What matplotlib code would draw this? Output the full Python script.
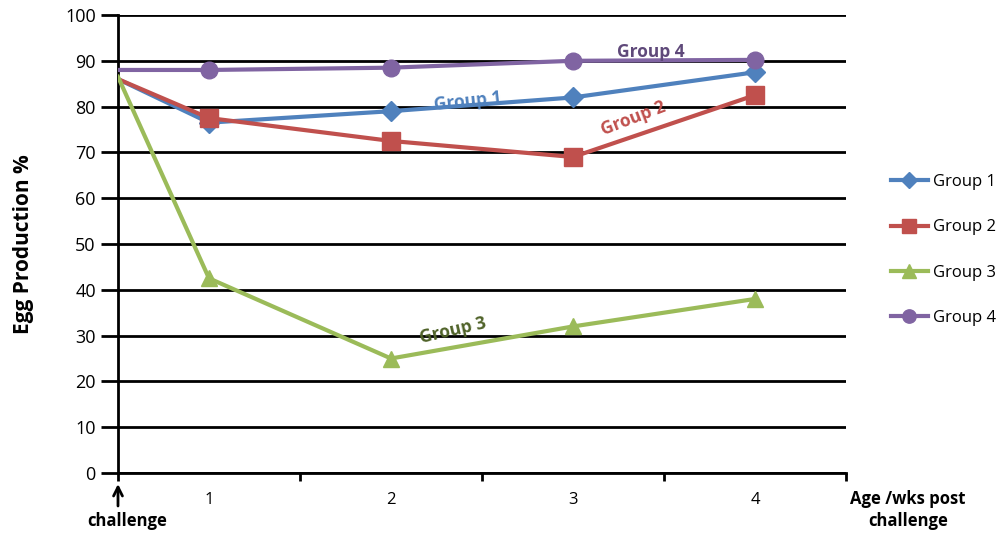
import numpy as np
import matplotlib.pyplot as plt

# x = 0.5 is the challenge point, weeks 1-4 sit at category centres
weeks = [0.5, 1, 2, 3, 4]
week_labels = ["1", "2", "3", "4"]
group1 = [86, 76.5, 79, 82, 87.5]
group2 = [86, 77.5, 72.5, 69, 82.5]
group3 = [86.5, 42.5, 25, 32, 38]
group4 = [88, 88, 88.5, 90, 90.2]

plt.rcParams["font.family"] = ["Open Sans", "DejaVu Sans"]

fig = plt.figure(figsize=(10.01, 5.33), dpi=100)
ax = fig.add_axes([118 / 1001, 1 - 473 / 533, (846 - 118) / 1001, (473 - 15) / 533])

series = [
    ("Group 1", group1, "#4F81BD", "D", 10),
    ("Group 2", group2, "#C0504D", "s", 13),
    ("Group 3", group3, "#9BBB59", "^", 12),
    ("Group 4", group4, "#8064A2", "o", 12),
]
for name, vals, col, mk, ms in series:
    ax.plot(weeks, vals, color=col, lw=3, zorder=3)
    ax.plot(weeks[1:], vals[1:], ls="none", marker=mk, ms=ms, color=col, zorder=4)
    ax.plot([], [], color=col, lw=3, marker=mk, ms=ms * 0.8, label=name)

ax.set_xlim(0.5, 4.5)
ax.set_ylim(0, 100)
ax.set_yticks(np.arange(0, 101, 10))
ax.yaxis.grid(True, color="black", lw=2)
ax.set_axisbelow(True)
ax.set_xticks(np.arange(0.5, 4.6, 1))
ax.set_xticklabels([])
ax.set_xticks([1, 2, 3, 4], minor=True)
ax.set_xticklabels(week_labels, minor=True)
ax.tick_params(axis="x", which="minor", length=0, pad=14, labelsize=12)
ax.tick_params(axis="x", which="major", length=6, width=2, direction="out")
ax.tick_params(axis="y", length=12, width=2, labelsize=13, pad=4)
for side in ["top", "right"]:
    ax.spines[side].set_visible(False)
for side in ["left", "bottom"]:
    ax.spines[side].set_linewidth(2)

ax.set_ylabel("Egg Production %", fontsize=15, fontweight="bold", labelpad=22)

# inline labels
ax.text(2.42, 81.2, "Group 1", color="#4F81BD", fontsize=12.5, fontweight="bold",
        rotation=6, ha="center", va="center")
ax.text(3.33, 77.5, "Group 2", color="#C0504D", fontsize=12.5, fontweight="bold",
        rotation=21, ha="center", va="center")
ax.text(2.34, 31.0, "Group 3", color="#4F6228", fontsize=12.5, fontweight="bold",
        rotation=13, ha="center", va="center")
ax.text(3.43, 92.0, "Group 4", color="#5F497A", fontsize=12.5, fontweight="bold",
        ha="center", va="center")

# challenge marker
x0 = 118 / 1001
ax.annotate("", xy=(x0, 1 - 484 / 533), xytext=(x0, 1 - 506 / 533),
            xycoords="figure fraction", textcoords="figure fraction",
            arrowprops=dict(arrowstyle="->", lw=2, color="black", shrinkA=0, shrinkB=0,
                            mutation_scale=16))
fig.text(127 / 1001, 1 - 521 / 533, "challenge", ha="center", va="center",
         fontsize=12, fontweight="bold")
fig.text(908 / 1001, 1 - 510 / 533, "Age /wks post\nchallenge", ha="center", va="center",
         fontsize=12, fontweight="bold", linespacing=1.25)

fig.legend(loc="center left", bbox_to_anchor=(876 / 1001, 1 - 250 / 533), frameon=False,
           fontsize=12, handlelength=2.2, handletextpad=0.3, labelspacing=1.75)

fig.savefig("out.png", dpi=100)
